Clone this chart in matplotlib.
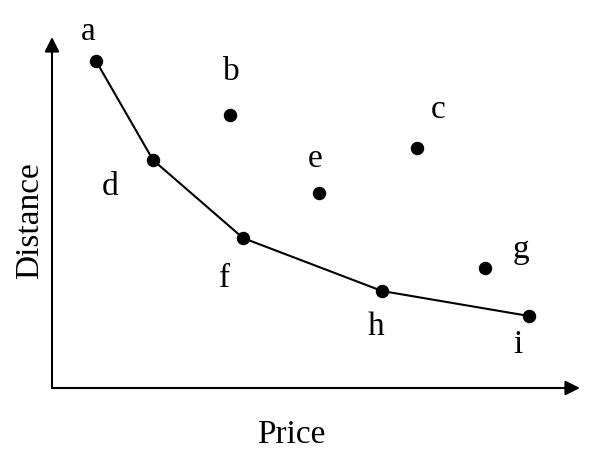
import matplotlib.pyplot as plt

# points (price, distance)
names = ['a', 'b', 'c', 'd', 'e', 'f', 'g', 'h', 'i']
price = [44, 178, 365, 101, 267, 191, 433, 330, 477]
distance = [327, 273, 240, 228, 195, 150, 120, 97, 72]
skyline = ['a', 'd', 'f', 'h', 'i']

# label offsets in pixels
offsets = {'a': (-8, 21), 'b': (1, 35), 'c': (21, 30), 'd': (-43, -35),
           'e': (-4, 26), 'f': (-18, -49), 'g': (36, 10), 'h': (-6, -44),
           'i': (-11, -37)}

plt.rcParams['font.family'] = ['Liberation Serif', 'DejaVu Serif']

fig = plt.figure(figsize=(6, 4.58), dpi=100)
ax = fig.add_axes([0, 0, 1, 1])
ax.set_xlim(-52, 548)
ax.set_ylim(-70, 388)
ax.axis('off')

# axes arrows
ax.annotate('', xy=(528, 0), xytext=(0, 0),
            arrowprops=dict(arrowstyle='-|>', color='black', lw=1.5,
                            mutation_scale=22, shrinkA=0, shrinkB=0))
ax.annotate('', xy=(0, 351), xytext=(0, 0),
            arrowprops=dict(arrowstyle='-|>', color='black', lw=1.5,
                            mutation_scale=22, shrinkA=0, shrinkB=0))

# skyline line
sx = [price[names.index(n)] for n in skyline]
sy = [distance[names.index(n)] for n in skyline]
ax.plot(sx, sy, color='black', lw=1.5, zorder=2)

ax.scatter(price, distance, s=75, color='black', zorder=3)

for n, x, y in zip(names, price, distance):
    ax.annotate(n, (x, y), xytext=offsets[n], textcoords='offset pixels',
                ha='center', va='baseline', fontsize=24)

ax.text(239, -55, 'Price', ha='center', va='baseline', fontsize=24)
ax.text(-22, 167, 'Distance', ha='center', va='center', rotation=90, fontsize=24)

fig.savefig('out.png', dpi=100)
